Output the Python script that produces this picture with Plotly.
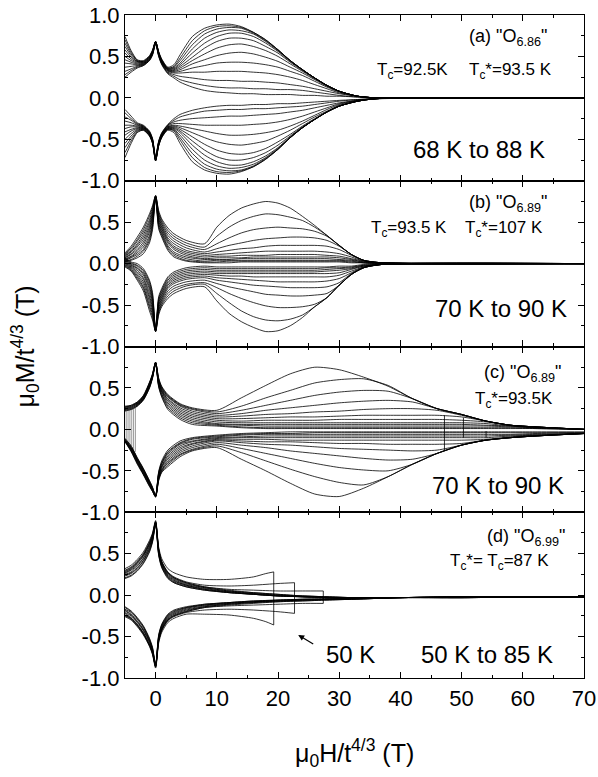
import plotly.graph_objects as go
from plotly.subplots import make_subplots

# ---------------- Panel (a) "O6.86", 68 K to 88 K ----------------
XA = [-5, -4, -3, -2, -1, -0.5, 0, 0.5, 1, 2, 3, 4, 6, 8, 10, 12, 14, 16, 18, 20, 22, 24, 26, 28, 30, 33, 36, 70]
A_UP = [
    [0.74, 0.57, 0.46, 0.45, 0.51, 0.58, 0.68, 0.56, 0.47, 0.37, 0.40, 0.52, 0.74, 0.84, 0.88, 0.89, 0.86, 0.79, 0.70, 0.58, 0.45, 0.34, 0.24, 0.15, 0.08, 0.02, 0.00, 0.00],
    [0.70, 0.55, 0.45, 0.44, 0.50, 0.57, 0.68, 0.55, 0.46, 0.36, 0.38, 0.48, 0.69, 0.81, 0.86, 0.87, 0.85, 0.79, 0.70, 0.58, 0.45, 0.34, 0.24, 0.15, 0.08, 0.02, 0.00, 0.00],
    [0.66, 0.53, 0.45, 0.44, 0.50, 0.57, 0.68, 0.55, 0.46, 0.36, 0.37, 0.45, 0.64, 0.77, 0.83, 0.85, 0.84, 0.78, 0.69, 0.58, 0.45, 0.34, 0.24, 0.15, 0.08, 0.02, 0.00, 0.00],
    [0.62, 0.51, 0.44, 0.43, 0.49, 0.56, 0.68, 0.55, 0.45, 0.35, 0.36, 0.42, 0.59, 0.72, 0.79, 0.82, 0.81, 0.77, 0.68, 0.57, 0.45, 0.34, 0.24, 0.15, 0.08, 0.02, 0.00, 0.00],
    [0.58, 0.49, 0.44, 0.43, 0.49, 0.56, 0.68, 0.54, 0.45, 0.35, 0.35, 0.40, 0.54, 0.66, 0.74, 0.78, 0.78, 0.74, 0.66, 0.56, 0.44, 0.34, 0.24, 0.15, 0.08, 0.02, 0.00, 0.00],
    [0.54, 0.47, 0.43, 0.42, 0.48, 0.55, 0.68, 0.54, 0.44, 0.34, 0.34, 0.38, 0.49, 0.60, 0.68, 0.72, 0.72, 0.69, 0.62, 0.54, 0.43, 0.33, 0.24, 0.15, 0.08, 0.02, 0.00, 0.00],
    [0.50, 0.45, 0.42, 0.42, 0.48, 0.55, 0.67, 0.53, 0.44, 0.34, 0.33, 0.36, 0.45, 0.53, 0.60, 0.64, 0.65, 0.62, 0.57, 0.50, 0.41, 0.32, 0.23, 0.15, 0.08, 0.02, 0.00, 0.00],
    [0.46, 0.43, 0.41, 0.41, 0.47, 0.54, 0.67, 0.53, 0.43, 0.33, 0.32, 0.34, 0.41, 0.46, 0.51, 0.54, 0.55, 0.53, 0.49, 0.44, 0.37, 0.30, 0.22, 0.14, 0.08, 0.02, 0.00, 0.00],
    [0.42, 0.41, 0.40, 0.41, 0.47, 0.54, 0.67, 0.52, 0.43, 0.33, 0.31, 0.32, 0.36, 0.39, 0.42, 0.43, 0.43, 0.42, 0.40, 0.37, 0.32, 0.27, 0.20, 0.13, 0.07, 0.02, 0.00, 0.00],
    [0.37, 0.38, 0.39, 0.40, 0.46, 0.53, 0.66, 0.52, 0.42, 0.32, 0.30, 0.30, 0.31, 0.31, 0.32, 0.32, 0.32, 0.31, 0.30, 0.28, 0.25, 0.21, 0.16, 0.11, 0.06, 0.02, 0.00, 0.00],
    [0.32, 0.35, 0.38, 0.40, 0.46, 0.53, 0.66, 0.51, 0.41, 0.31, 0.28, 0.26, 0.24, 0.22, 0.21, 0.21, 0.20, 0.20, 0.19, 0.18, 0.16, 0.14, 0.11, 0.08, 0.05, 0.02, 0.00, 0.00],
    [0.28, 0.33, 0.37, 0.39, 0.45, 0.52, 0.65, 0.51, 0.41, 0.30, 0.26, 0.22, 0.18, 0.15, 0.13, 0.12, 0.12, 0.11, 0.11, 0.10, 0.10, 0.09, 0.07, 0.05, 0.03, 0.01, 0.00, 0.00],
    [0.25, 0.31, 0.36, 0.39, 0.45, 0.52, 0.65, 0.50, 0.40, 0.29, 0.24, 0.19, 0.13, 0.09, 0.07, 0.06, 0.05, 0.05, 0.04, 0.04, 0.04, 0.03, 0.03, 0.02, 0.02, 0.01, 0.00, 0.00],
]
A_LO = [
    [-0.72, -0.55, -0.42, -0.39, -0.46, -0.55, -0.76, -0.58, -0.48, -0.39, -0.42, -0.55, -0.77, -0.87, -0.91, -0.92, -0.89, -0.83, -0.74, -0.62, -0.48, -0.36, -0.26, -0.17, -0.10, -0.04, -0.01, 0.00],
    [-0.66, -0.52, -0.41, -0.39, -0.46, -0.55, -0.76, -0.58, -0.48, -0.38, -0.40, -0.51, -0.72, -0.84, -0.89, -0.90, -0.88, -0.83, -0.74, -0.62, -0.48, -0.36, -0.26, -0.17, -0.10, -0.04, -0.01, 0.00],
    [-0.60, -0.49, -0.40, -0.38, -0.45, -0.54, -0.76, -0.57, -0.47, -0.38, -0.39, -0.48, -0.67, -0.80, -0.86, -0.88, -0.87, -0.82, -0.73, -0.62, -0.48, -0.36, -0.26, -0.17, -0.10, -0.04, -0.01, 0.00],
    [-0.55, -0.46, -0.39, -0.38, -0.45, -0.54, -0.75, -0.57, -0.47, -0.37, -0.38, -0.45, -0.62, -0.75, -0.82, -0.85, -0.84, -0.80, -0.72, -0.61, -0.48, -0.36, -0.26, -0.17, -0.10, -0.04, -0.01, 0.00],
    [-0.50, -0.43, -0.38, -0.37, -0.44, -0.53, -0.75, -0.56, -0.46, -0.37, -0.37, -0.42, -0.57, -0.69, -0.77, -0.81, -0.81, -0.77, -0.70, -0.60, -0.47, -0.36, -0.26, -0.17, -0.10, -0.04, -0.01, 0.00],
    [-0.45, -0.40, -0.37, -0.37, -0.44, -0.53, -0.75, -0.56, -0.46, -0.36, -0.36, -0.40, -0.52, -0.63, -0.71, -0.75, -0.75, -0.72, -0.66, -0.57, -0.46, -0.35, -0.26, -0.17, -0.10, -0.04, -0.01, 0.00],
    [-0.41, -0.38, -0.36, -0.36, -0.43, -0.52, -0.74, -0.55, -0.45, -0.36, -0.35, -0.38, -0.47, -0.56, -0.63, -0.67, -0.68, -0.66, -0.61, -0.53, -0.44, -0.34, -0.25, -0.17, -0.10, -0.04, -0.01, 0.00],
    [-0.37, -0.35, -0.35, -0.36, -0.43, -0.52, -0.74, -0.55, -0.45, -0.35, -0.34, -0.36, -0.42, -0.48, -0.53, -0.56, -0.57, -0.55, -0.52, -0.46, -0.39, -0.31, -0.23, -0.16, -0.09, -0.04, -0.01, 0.00],
    [-0.33, -0.33, -0.34, -0.35, -0.42, -0.51, -0.73, -0.54, -0.44, -0.35, -0.33, -0.34, -0.37, -0.40, -0.43, -0.45, -0.45, -0.44, -0.42, -0.39, -0.34, -0.28, -0.21, -0.14, -0.08, -0.03, -0.01, 0.00],
    [-0.28, -0.30, -0.33, -0.35, -0.42, -0.51, -0.73, -0.54, -0.44, -0.34, -0.31, -0.31, -0.32, -0.33, -0.33, -0.33, -0.33, -0.32, -0.31, -0.29, -0.26, -0.22, -0.17, -0.12, -0.07, -0.03, -0.01, 0.00],
    [-0.23, -0.27, -0.32, -0.34, -0.41, -0.50, -0.72, -0.53, -0.43, -0.33, -0.29, -0.27, -0.25, -0.24, -0.23, -0.22, -0.22, -0.21, -0.20, -0.19, -0.17, -0.15, -0.12, -0.09, -0.06, -0.03, -0.01, 0.00],
    [-0.18, -0.25, -0.31, -0.34, -0.41, -0.50, -0.72, -0.53, -0.43, -0.33, -0.27, -0.23, -0.19, -0.16, -0.15, -0.14, -0.14, -0.13, -0.13, -0.12, -0.11, -0.10, -0.08, -0.06, -0.04, -0.02, -0.01, 0.00],
    [-0.14, -0.22, -0.30, -0.33, -0.40, -0.49, -0.71, -0.52, -0.42, -0.32, -0.25, -0.20, -0.15, -0.12, -0.10, -0.09, -0.09, -0.08, -0.08, -0.07, -0.07, -0.06, -0.05, -0.04, -0.03, -0.02, -0.01, 0.00],
]

# ---------------- Panel (b) "O6.89", 70 K to 90 K ----------------
XB = [-5, -4, -3, -2, -1, -0.5, 0, 0.5, 1, 2, 3, 5, 8, 10, 12, 14, 16, 18, 20, 22, 24, 26, 28, 30, 32, 34, 37, 70]
B_UP = [
    [0.13, 0.21, 0.32, 0.44, 0.60, 0.70, 0.82, 0.64, 0.54, 0.43, 0.36, 0.28, 0.24, 0.44, 0.58, 0.67, 0.72, 0.75, 0.73, 0.67, 0.57, 0.46, 0.34, 0.22, 0.11, 0.04, 0.01, 0.00],
    [0.12, 0.19, 0.29, 0.41, 0.57, 0.68, 0.82, 0.62, 0.52, 0.40, 0.33, 0.25, 0.20, 0.33, 0.44, 0.52, 0.57, 0.60, 0.59, 0.56, 0.52, 0.44, 0.34, 0.22, 0.11, 0.04, 0.01, 0.00],
    [0.11, 0.17, 0.27, 0.38, 0.53, 0.66, 0.82, 0.60, 0.50, 0.37, 0.30, 0.22, 0.17, 0.24, 0.31, 0.37, 0.41, 0.43, 0.44, 0.43, 0.42, 0.39, 0.33, 0.22, 0.11, 0.04, 0.01, 0.00],
    [0.10, 0.15, 0.24, 0.35, 0.50, 0.63, 0.81, 0.58, 0.48, 0.34, 0.27, 0.19, 0.14, 0.18, 0.22, 0.25, 0.28, 0.30, 0.31, 0.32, 0.32, 0.31, 0.28, 0.21, 0.11, 0.04, 0.01, 0.00],
    [0.09, 0.14, 0.22, 0.32, 0.47, 0.61, 0.81, 0.56, 0.46, 0.31, 0.24, 0.16, 0.12, 0.14, 0.16, 0.18, 0.19, 0.21, 0.22, 0.22, 0.22, 0.22, 0.21, 0.17, 0.10, 0.04, 0.01, 0.00],
    [0.08, 0.12, 0.20, 0.29, 0.44, 0.58, 0.81, 0.54, 0.44, 0.29, 0.21, 0.14, 0.10, 0.11, 0.12, 0.13, 0.14, 0.15, 0.15, 0.15, 0.15, 0.15, 0.14, 0.12, 0.08, 0.03, 0.01, 0.00],
    [0.07, 0.11, 0.17, 0.26, 0.41, 0.56, 0.80, 0.52, 0.42, 0.27, 0.19, 0.12, 0.08, 0.09, 0.09, 0.10, 0.10, 0.10, 0.11, 0.11, 0.11, 0.11, 0.10, 0.09, 0.06, 0.03, 0.01, 0.00],
    [0.06, 0.09, 0.15, 0.23, 0.38, 0.53, 0.80, 0.50, 0.40, 0.25, 0.17, 0.10, 0.06, 0.07, 0.07, 0.07, 0.08, 0.08, 0.08, 0.08, 0.08, 0.08, 0.08, 0.07, 0.05, 0.02, 0.01, 0.00],
    [0.05, 0.08, 0.13, 0.20, 0.34, 0.50, 0.80, 0.48, 0.38, 0.22, 0.14, 0.08, 0.05, 0.05, 0.05, 0.06, 0.06, 0.06, 0.06, 0.06, 0.06, 0.06, 0.06, 0.05, 0.04, 0.02, 0.01, 0.00],
    [0.04, 0.07, 0.11, 0.17, 0.31, 0.47, 0.79, 0.46, 0.36, 0.20, 0.12, 0.06, 0.03, 0.04, 0.04, 0.04, 0.04, 0.04, 0.04, 0.04, 0.04, 0.04, 0.04, 0.04, 0.03, 0.01, 0.00, 0.00],
    [0.03, 0.05, 0.09, 0.15, 0.28, 0.44, 0.79, 0.44, 0.34, 0.18, 0.10, 0.04, 0.02, 0.02, 0.03, 0.03, 0.03, 0.03, 0.03, 0.03, 0.03, 0.03, 0.03, 0.03, 0.02, 0.01, 0.00, 0.00],
    [0.02, 0.04, 0.07, 0.12, 0.25, 0.41, 0.79, 0.42, 0.32, 0.16, 0.08, 0.03, 0.01, 0.01, 0.01, 0.02, 0.02, 0.02, 0.02, 0.02, 0.02, 0.02, 0.02, 0.02, 0.01, 0.01, 0.00, 0.00],
]
B_LO = [
    [-0.04, -0.09, -0.20, -0.33, -0.57, -0.68, -0.82, -0.62, -0.52, -0.42, -0.36, -0.30, -0.28, -0.45, -0.60, -0.70, -0.77, -0.82, -0.81, -0.75, -0.65, -0.52, -0.41, -0.26, -0.13, -0.05, -0.01, 0.00],
    [-0.03, -0.08, -0.18, -0.30, -0.53, -0.65, -0.82, -0.60, -0.50, -0.39, -0.33, -0.27, -0.25, -0.36, -0.47, -0.57, -0.64, -0.68, -0.69, -0.67, -0.62, -0.52, -0.41, -0.26, -0.13, -0.05, -0.01, 0.00],
    [-0.02, -0.07, -0.16, -0.28, -0.50, -0.62, -0.82, -0.58, -0.48, -0.36, -0.30, -0.25, -0.23, -0.29, -0.36, -0.42, -0.47, -0.51, -0.53, -0.53, -0.52, -0.49, -0.41, -0.26, -0.13, -0.05, -0.01, 0.00],
    [-0.01, -0.06, -0.14, -0.25, -0.46, -0.59, -0.81, -0.56, -0.46, -0.33, -0.27, -0.22, -0.20, -0.24, -0.28, -0.31, -0.34, -0.37, -0.38, -0.39, -0.39, -0.38, -0.36, -0.26, -0.13, -0.05, -0.01, 0.00],
    [0.00, -0.05, -0.12, -0.22, -0.42, -0.56, -0.81, -0.54, -0.44, -0.30, -0.24, -0.19, -0.17, -0.20, -0.22, -0.24, -0.26, -0.27, -0.28, -0.29, -0.29, -0.29, -0.28, -0.23, -0.12, -0.05, -0.01, 0.00],
    [0.01, -0.04, -0.10, -0.19, -0.39, -0.53, -0.81, -0.52, -0.42, -0.28, -0.22, -0.17, -0.15, -0.17, -0.18, -0.19, -0.20, -0.21, -0.22, -0.22, -0.22, -0.22, -0.21, -0.18, -0.11, -0.04, -0.01, 0.00],
    [0.02, -0.03, -0.08, -0.17, -0.35, -0.50, -0.80, -0.50, -0.40, -0.26, -0.20, -0.15, -0.13, -0.14, -0.15, -0.15, -0.16, -0.16, -0.16, -0.16, -0.16, -0.16, -0.16, -0.14, -0.09, -0.04, -0.01, 0.00],
    [0.03, -0.02, -0.06, -0.14, -0.31, -0.47, -0.80, -0.48, -0.38, -0.24, -0.18, -0.13, -0.11, -0.12, -0.12, -0.12, -0.12, -0.12, -0.12, -0.12, -0.12, -0.12, -0.12, -0.11, -0.07, -0.03, -0.01, 0.00],
    [0.04, -0.01, -0.05, -0.12, -0.28, -0.44, -0.80, -0.46, -0.36, -0.22, -0.16, -0.11, -0.09, -0.10, -0.10, -0.10, -0.10, -0.10, -0.10, -0.10, -0.10, -0.10, -0.09, -0.08, -0.06, -0.03, -0.01, 0.00],
    [0.05, 0.00, -0.03, -0.10, -0.25, -0.41, -0.79, -0.44, -0.34, -0.20, -0.14, -0.09, -0.07, -0.08, -0.08, -0.08, -0.08, -0.08, -0.08, -0.08, -0.08, -0.08, -0.07, -0.06, -0.05, -0.02, -0.01, 0.00],
    [0.06, 0.01, -0.02, -0.08, -0.22, -0.38, -0.79, -0.42, -0.32, -0.18, -0.12, -0.07, -0.05, -0.06, -0.06, -0.06, -0.06, -0.06, -0.06, -0.06, -0.06, -0.06, -0.05, -0.05, -0.04, -0.02, -0.01, 0.00],
    [0.07, 0.02, 0.00, -0.06, -0.20, -0.35, -0.79, -0.40, -0.30, -0.16, -0.10, -0.05, -0.03, -0.04, -0.04, -0.04, -0.04, -0.04, -0.04, -0.04, -0.04, -0.04, -0.04, -0.03, -0.03, -0.01, 0.00, 0.00],
]

# ---------------- Panel (c) "O6.89", 70 K to 90 K ----------------
XC = [-5, -4, -3, -2, -1, -0.5, 0, 0.5, 1, 2, 4, 6, 10, 14, 18, 22, 26, 30, 34, 38, 42, 46, 50, 54, 58, 62, 70]
C_UP = [
    [0.28, 0.29, 0.33, 0.41, 0.57, 0.67, 0.81, 0.62, 0.52, 0.42, 0.31, 0.26, 0.23, 0.38, 0.53, 0.67, 0.75, 0.72, 0.63, 0.52, 0.37, 0.25, 0.18, 0.10, 0.05, 0.03, 0.00],
    [0.27, 0.29, 0.33, 0.40, 0.56, 0.67, 0.81, 0.61, 0.51, 0.41, 0.30, 0.25, 0.21, 0.28, 0.38, 0.47, 0.56, 0.60, 0.61, 0.53, 0.37, 0.25, 0.18, 0.10, 0.05, 0.03, 0.00],
    [0.27, 0.28, 0.32, 0.40, 0.56, 0.66, 0.81, 0.60, 0.50, 0.40, 0.29, 0.24, 0.19, 0.23, 0.29, 0.35, 0.41, 0.45, 0.47, 0.46, 0.37, 0.25, 0.18, 0.10, 0.05, 0.03, 0.00],
    [0.26, 0.28, 0.32, 0.39, 0.55, 0.66, 0.81, 0.59, 0.49, 0.39, 0.28, 0.22, 0.17, 0.19, 0.23, 0.26, 0.29, 0.32, 0.34, 0.35, 0.33, 0.25, 0.18, 0.10, 0.05, 0.03, 0.00],
    [0.26, 0.27, 0.31, 0.39, 0.54, 0.65, 0.80, 0.58, 0.48, 0.37, 0.26, 0.20, 0.15, 0.16, 0.18, 0.19, 0.21, 0.22, 0.24, 0.25, 0.25, 0.23, 0.17, 0.10, 0.05, 0.03, 0.00],
    [0.25, 0.27, 0.31, 0.38, 0.54, 0.65, 0.80, 0.57, 0.47, 0.36, 0.24, 0.18, 0.13, 0.13, 0.14, 0.15, 0.15, 0.16, 0.17, 0.17, 0.17, 0.17, 0.15, 0.10, 0.05, 0.03, 0.00],
    [0.25, 0.26, 0.30, 0.38, 0.53, 0.64, 0.80, 0.56, 0.46, 0.34, 0.22, 0.16, 0.11, 0.10, 0.11, 0.11, 0.11, 0.12, 0.12, 0.12, 0.12, 0.12, 0.11, 0.09, 0.05, 0.03, 0.00],
    [0.24, 0.26, 0.30, 0.37, 0.52, 0.64, 0.80, 0.55, 0.45, 0.32, 0.20, 0.14, 0.09, 0.08, 0.08, 0.08, 0.08, 0.08, 0.08, 0.08, 0.08, 0.08, 0.08, 0.07, 0.04, 0.02, 0.00],
    [0.24, 0.25, 0.29, 0.37, 0.52, 0.63, 0.80, 0.54, 0.43, 0.30, 0.18, 0.12, 0.07, 0.06, 0.06, 0.06, 0.06, 0.06, 0.06, 0.06, 0.06, 0.06, 0.06, 0.05, 0.04, 0.02, 0.00],
    [0.23, 0.25, 0.29, 0.36, 0.51, 0.63, 0.79, 0.53, 0.42, 0.28, 0.16, 0.10, 0.06, 0.05, 0.04, 0.04, 0.04, 0.04, 0.04, 0.04, 0.04, 0.04, 0.04, 0.04, 0.03, 0.02, 0.00],
    [0.23, 0.24, 0.28, 0.36, 0.50, 0.62, 0.79, 0.52, 0.40, 0.26, 0.14, 0.08, 0.05, 0.03, 0.02, 0.02, 0.02, 0.02, 0.02, 0.02, 0.02, 0.02, 0.02, 0.02, 0.02, 0.01, 0.00],
    [0.22, 0.24, 0.28, 0.35, 0.50, 0.62, 0.79, 0.51, 0.39, 0.24, 0.12, 0.06, 0.04, 0.02, 0.01, 0.01, 0.01, 0.01, 0.01, 0.01, 0.01, 0.01, 0.01, 0.01, 0.01, 0.01, 0.00],
]
C_LO = [
    [-0.15, -0.27, -0.42, -0.55, -0.69, -0.75, -0.82, -0.62, -0.52, -0.45, -0.33, -0.26, -0.22, -0.36, -0.50, -0.65, -0.78, -0.81, -0.71, -0.57, -0.42, -0.29, -0.19, -0.13, -0.10, -0.08, -0.05],
    [-0.15, -0.26, -0.41, -0.54, -0.68, -0.75, -0.81, -0.61, -0.51, -0.43, -0.31, -0.25, -0.20, -0.28, -0.38, -0.48, -0.57, -0.64, -0.67, -0.57, -0.42, -0.29, -0.19, -0.13, -0.10, -0.08, -0.05],
    [-0.14, -0.26, -0.40, -0.54, -0.68, -0.74, -0.81, -0.60, -0.50, -0.41, -0.30, -0.24, -0.18, -0.23, -0.29, -0.35, -0.41, -0.46, -0.49, -0.50, -0.42, -0.29, -0.19, -0.13, -0.10, -0.08, -0.05],
    [-0.14, -0.25, -0.40, -0.53, -0.67, -0.74, -0.81, -0.59, -0.49, -0.40, -0.28, -0.22, -0.16, -0.19, -0.22, -0.26, -0.29, -0.32, -0.35, -0.37, -0.36, -0.29, -0.19, -0.13, -0.10, -0.08, -0.05],
    [-0.14, -0.24, -0.39, -0.52, -0.66, -0.73, -0.81, -0.58, -0.48, -0.38, -0.26, -0.20, -0.14, -0.16, -0.18, -0.19, -0.21, -0.23, -0.24, -0.25, -0.26, -0.25, -0.19, -0.13, -0.10, -0.08, -0.05],
    [-0.13, -0.24, -0.38, -0.51, -0.66, -0.73, -0.81, -0.57, -0.46, -0.36, -0.24, -0.18, -0.13, -0.14, -0.15, -0.15, -0.16, -0.17, -0.17, -0.18, -0.18, -0.18, -0.17, -0.13, -0.10, -0.08, -0.05],
    [-0.13, -0.23, -0.37, -0.51, -0.65, -0.72, -0.80, -0.56, -0.45, -0.34, -0.22, -0.17, -0.12, -0.12, -0.12, -0.13, -0.13, -0.13, -0.13, -0.13, -0.13, -0.13, -0.13, -0.12, -0.09, -0.07, -0.05],
    [-0.13, -0.22, -0.37, -0.50, -0.64, -0.72, -0.80, -0.55, -0.44, -0.32, -0.20, -0.15, -0.11, -0.10, -0.10, -0.10, -0.10, -0.10, -0.10, -0.10, -0.10, -0.10, -0.10, -0.10, -0.08, -0.07, -0.05],
    [-0.12, -0.22, -0.36, -0.49, -0.64, -0.71, -0.80, -0.54, -0.42, -0.30, -0.18, -0.14, -0.10, -0.09, -0.08, -0.08, -0.08, -0.08, -0.08, -0.08, -0.08, -0.08, -0.08, -0.08, -0.07, -0.06, -0.05],
    [-0.12, -0.21, -0.35, -0.48, -0.63, -0.71, -0.80, -0.53, -0.41, -0.28, -0.17, -0.12, -0.09, -0.07, -0.06, -0.06, -0.06, -0.06, -0.06, -0.06, -0.06, -0.06, -0.06, -0.06, -0.06, -0.05, -0.04],
    [-0.11, -0.20, -0.35, -0.48, -0.62, -0.70, -0.80, -0.52, -0.40, -0.27, -0.16, -0.11, -0.08, -0.06, -0.05, -0.05, -0.04, -0.04, -0.04, -0.04, -0.04, -0.04, -0.04, -0.04, -0.04, -0.04, -0.04],
    [-0.11, -0.20, -0.34, -0.47, -0.62, -0.70, -0.80, -0.51, -0.38, -0.25, -0.14, -0.10, -0.07, -0.05, -0.04, -0.03, -0.03, -0.03, -0.03, -0.03, -0.03, -0.03, -0.03, -0.03, -0.03, -0.03, -0.03],
]
# vertical sweep segments in panel (c): start-of-run hatch at the left, run ends at the right
C_HATCH_X = [-4.8, -4.5, -4.2, -3.9, -3.6, -3.3]
C_HATCH_TOP = [0.27, 0.27, 0.28, 0.29, 0.29, 0.30]
C_HATCH_BOT = [-0.14, -0.16, -0.19, -0.22, -0.25, -0.27]
C_JUMP_X = [47.2, 50.3, 54.0]
C_JUMP_TOP = [0.17, 0.14, -0.02]
C_JUMP_BOT = [-0.26, -0.10, -0.10]

# ---------------- Panel (d) "O6.99", 50 K to 85 K ----------------
XD = [-5, -4, -3, -2, -1, -0.5, 0, 0.5, 1, 2, 3, 5, 8, 12, 16, 20, 24, 28, 32, 36, 40, 50, 70]
D_UP = [
    [0.28, 0.32, 0.39, 0.48, 0.62, 0.72, 0.88, 0.55, 0.40, 0.27, 0.21, 0.15, 0.10, 0.06, 0.03, 0.01, -0.01, -0.02, -0.03, -0.03, -0.03, -0.02, -0.02],
    [0.27, 0.31, 0.38, 0.47, 0.61, 0.71, 0.88, 0.54, 0.39, 0.26, 0.20, 0.14, 0.09, 0.05, 0.03, 0.01, -0.01, -0.02, -0.03, -0.03, -0.03, -0.02, -0.02],
    [0.26, 0.30, 0.36, 0.45, 0.59, 0.70, 0.87, 0.53, 0.38, 0.25, 0.19, 0.13, 0.09, 0.05, 0.02, 0.00, -0.01, -0.02, -0.03, -0.03, -0.03, -0.02, -0.02],
    [0.25, 0.28, 0.35, 0.44, 0.58, 0.69, 0.87, 0.52, 0.37, 0.24, 0.18, 0.12, 0.08, 0.04, 0.02, 0.00, -0.02, -0.03, -0.03, -0.03, -0.03, -0.02, -0.02],
    [0.24, 0.27, 0.33, 0.42, 0.56, 0.67, 0.86, 0.51, 0.36, 0.23, 0.17, 0.12, 0.07, 0.04, 0.01, -0.01, -0.02, -0.03, -0.04, -0.03, -0.03, -0.02, -0.02],
    [0.23, 0.26, 0.32, 0.41, 0.55, 0.66, 0.86, 0.50, 0.35, 0.22, 0.16, 0.11, 0.07, 0.03, 0.01, -0.01, -0.02, -0.03, -0.04, -0.03, -0.03, -0.02, -0.02],
    [0.21, 0.24, 0.30, 0.39, 0.53, 0.65, 0.85, 0.49, 0.34, 0.21, 0.15, 0.10, 0.06, 0.03, 0.01, -0.01, -0.02, -0.03, -0.04, -0.03, -0.03, -0.02, -0.02],
    [0.20, 0.23, 0.29, 0.38, 0.52, 0.64, 0.85, 0.48, 0.33, 0.20, 0.15, 0.10, 0.06, 0.03, 0.01, -0.01, -0.02, -0.03, -0.04, -0.03, -0.03, -0.02, -0.02],
]
D_LO = [
    [-0.24, -0.28, -0.36, -0.46, -0.60, -0.70, -0.86, -0.55, -0.42, -0.30, -0.25, -0.20, -0.15, -0.12, -0.10, -0.08, -0.07, -0.06, -0.05, -0.04, -0.03, -0.03, -0.02],
    [-0.22, -0.27, -0.35, -0.45, -0.59, -0.69, -0.86, -0.54, -0.41, -0.29, -0.24, -0.19, -0.14, -0.11, -0.09, -0.08, -0.07, -0.06, -0.05, -0.04, -0.03, -0.03, -0.02],
    [-0.21, -0.25, -0.33, -0.43, -0.57, -0.68, -0.85, -0.53, -0.40, -0.28, -0.23, -0.18, -0.14, -0.11, -0.09, -0.07, -0.06, -0.05, -0.05, -0.04, -0.03, -0.03, -0.02],
    [-0.19, -0.24, -0.32, -0.42, -0.56, -0.67, -0.85, -0.52, -0.39, -0.27, -0.22, -0.17, -0.13, -0.10, -0.08, -0.07, -0.06, -0.05, -0.05, -0.04, -0.03, -0.03, -0.02],
    [-0.18, -0.23, -0.31, -0.41, -0.55, -0.66, -0.85, -0.51, -0.38, -0.26, -0.21, -0.16, -0.12, -0.10, -0.08, -0.07, -0.06, -0.05, -0.04, -0.04, -0.03, -0.03, -0.02],
    [-0.17, -0.21, -0.29, -0.39, -0.54, -0.65, -0.84, -0.50, -0.37, -0.25, -0.20, -0.15, -0.12, -0.09, -0.08, -0.06, -0.05, -0.05, -0.04, -0.04, -0.03, -0.03, -0.02],
    [-0.15, -0.20, -0.28, -0.38, -0.53, -0.64, -0.84, -0.49, -0.36, -0.24, -0.19, -0.15, -0.11, -0.09, -0.07, -0.06, -0.05, -0.05, -0.04, -0.04, -0.03, -0.03, -0.02],
    [-0.14, -0.19, -0.27, -0.37, -0.52, -0.63, -0.84, -0.48, -0.35, -0.23, -0.18, -0.14, -0.11, -0.09, -0.07, -0.06, -0.05, -0.04, -0.04, -0.03, -0.03, -0.03, -0.02],
]
# the three coldest runs end at lower fields, closed by a vertical sweep
D50_X = [-5, -4, -3, -2, -1, -0.5, 0, 0.5, 1, 2, 3, 5, 8, 12, 16, 18, 19.3]
D50_UP = [0.32, 0.36, 0.43, 0.52, 0.66, 0.75, 0.90, 0.58, 0.44, 0.32, 0.27, 0.22, 0.19, 0.19, 0.22, 0.26, 0.28]
D50_LO = [-0.26, -0.30, -0.38, -0.48, -0.62, -0.72, -0.88, -0.58, -0.45, -0.33, -0.28, -0.23, -0.23, -0.24, -0.28, -0.32, -0.36]
D55_X = [-5, -4, -3, -2, -1, -0.5, 0, 0.5, 1, 2, 3, 5, 8, 12, 16, 20, 22.7]
D55_UP = [0.30, 0.34, 0.41, 0.50, 0.64, 0.74, 0.89, 0.56, 0.41, 0.28, 0.22, 0.16, 0.12, 0.11, 0.12, 0.14, 0.15]
D55_LO = [-0.25, -0.29, -0.37, -0.47, -0.61, -0.71, -0.87, -0.56, -0.43, -0.31, -0.26, -0.21, -0.18, -0.17, -0.18, -0.20, -0.22]
D60_X = [-5, -4, -3, -2, -1, -0.5, 0, 0.5, 1, 2, 3, 5, 8, 12, 16, 20, 24, 27.4]
D60_UP = [0.29, 0.33, 0.40, 0.49, 0.63, 0.73, 0.88, 0.55, 0.40, 0.27, 0.21, 0.15, 0.10, 0.07, 0.06, 0.05, 0.05, 0.05]
D60_LO = [-0.24, -0.28, -0.36, -0.46, -0.60, -0.70, -0.86, -0.55, -0.42, -0.30, -0.25, -0.20, -0.15, -0.13, -0.12, -0.11, -0.10, -0.10]
D_JUMP_X = [19.3, 22.7, 27.4]
D_JUMP_TOP = [0.28, 0.15, 0.05]
D_JUMP_BOT = [-0.36, -0.22, -0.10]

# ---------------- axes ----------------
X_TICKS = [0, 10, 20, 30, 40, 50, 60, 70]
X_MINOR = [-5, 5, 15, 25, 35, 45, 55, 65]
Y_TICKS_TOP = [1.0, 0.5, 0.0, -0.5, -1.0]
Y_TEXT_TOP = ["1.0", "0.5", "0.0", "-0.5", "-1.0"]
Y_TICKS = [0.5, 0.0, -0.5, -1.0]
Y_TEXT = ["0.5", "0.0", "-0.5", "-1.0"]
Y_MINOR = [-0.75, -0.25, 0.25, 0.75]

FONT = "Liberation Sans, Arial, Helvetica, sans-serif"


def joined(xgrid, rows):
    xs, ys = [], []
    for r in rows:
        xs += list(xgrid) + [None]
        ys += list(r) + [None]
    return xs, ys


def jumps(xv, top, bot):
    xs, ys = [], []
    for a, t, b in zip(xv, top, bot):
        xs += [a, a, None]
        ys += [t, b, None]
    return xs, ys


fig = make_subplots(rows=4, cols=1, shared_xaxes=True, vertical_spacing=0)
curve = dict(color="black", width=0.8, shape="spline", smoothing=0.7)
straight = dict(color="black", width=0.8)

panels = [(XA, A_UP + A_LO), (XB, B_UP + B_LO), (XC, C_UP + C_LO), (XD, D_UP + D_LO)]
for i, (xg, rows) in enumerate(panels, start=1):
    xs, ys = joined(xg, rows)
    fig.add_trace(go.Scatter(x=xs, y=ys, mode="lines", line=curve, hoverinfo="skip",
                             showlegend=False), row=i, col=1)

xs, ys = jumps(C_HATCH_X, C_HATCH_TOP, C_HATCH_BOT)
fig.add_trace(go.Scatter(x=xs, y=ys, mode="lines", line=dict(color="#555555", width=0.6),
                         hoverinfo="skip", showlegend=False), row=3, col=1)
xs, ys = jumps(C_JUMP_X, C_JUMP_TOP, C_JUMP_BOT)
fig.add_trace(go.Scatter(x=xs, y=ys, mode="lines", line=straight, hoverinfo="skip",
                         showlegend=False), row=3, col=1)

for xg, up, lo in [(D50_X, D50_UP, D50_LO), (D55_X, D55_UP, D55_LO), (D60_X, D60_UP, D60_LO)]:
    xs, ys = joined(xg, [up, lo])
    fig.add_trace(go.Scatter(x=xs, y=ys, mode="lines", line=curve, hoverinfo="skip",
                             showlegend=False), row=4, col=1)
xs, ys = jumps(D_JUMP_X, D_JUMP_TOP, D_JUMP_BOT)
fig.add_trace(go.Scatter(x=xs, y=ys, mode="lines", line=straight, hoverinfo="skip",
                         showlegend=False), row=4, col=1)

for i in range(1, 5):
    tv, tt = (Y_TICKS_TOP, Y_TEXT_TOP) if i == 1 else (Y_TICKS, Y_TEXT)
    fig.update_yaxes(range=[-1, 1], tickmode="array", tickvals=tv, ticktext=tt,
                     ticks="inside", ticklen=6, tickwidth=1.2, tickcolor="black",
                     showline=True, linewidth=1.2, linecolor="black", mirror="ticks",
                     showgrid=False, zeroline=False, automargin=False,
                     tickfont=dict(family=FONT, size=22, color="black"),
                     minor=dict(tickmode="array", tickvals=Y_MINOR, ticks="inside",
                                ticklen=3, tickwidth=1, tickcolor="black"),
                     row=i, col=1)
    fig.update_xaxes(range=[-5, 70], tickmode="array", tickvals=X_TICKS,
                     ticktext=[str(v) for v in X_TICKS],
                     ticks="inside", ticklen=6, tickwidth=1.2, tickcolor="black",
                     showline=True, linewidth=1.2, linecolor="black", mirror="ticks",
                     showgrid=False, zeroline=False, automargin=False,
                     tickfont=dict(family=FONT, size=22, color="black"),
                     minor=dict(tickmode="array", tickvals=X_MINOR, ticks="inside",
                                ticklen=3, tickwidth=1, tickcolor="black"),
                     row=i, col=1)

ann = []


def txt(text, x, y, k, size, xanchor="left"):
    ann.append(dict(text=text, x=x, y=y, xref="x" if k == 1 else f"x{k}",
                    yref="y" if k == 1 else f"y{k}", showarrow=False,
                    xanchor=xanchor, yanchor="middle",
                    font=dict(family=FONT, size=size, color="black")))


txt('(a) "O<sub>6.86</sub>"', 50.9, 0.73, 1, 18)
txt('T<sub>c</sub>=92.5K', 35.8, 0.32, 1, 17)
txt('T<sub>c</sub>*=93.5 K', 50.9, 0.32, 1, 17)
txt('68 K to 88 K', 52.8, -0.62, 1, 24, "center")

txt('(b) "O<sub>6.89</sub>"', 50.8, 0.72, 2, 18)
txt('T<sub>c</sub>=93.5 K', 34.8, 0.42, 2, 17)
txt('T<sub>c</sub>*=107 K', 50.3, 0.42, 2, 17)
txt('70 K to 90 K', 56.5, -0.54, 2, 24, "center")

txt('(c) "O<sub>6.89</sub>"', 53.3, 0.67, 3, 18)
txt('T<sub>c</sub>*=93.5K', 51.9, 0.35, 3, 17)
txt('70 K to 90 K', 56.0, -0.68, 3, 24, "center")

txt('(d) "O<sub>6.99</sub>"', 53.8, 0.70, 4, 18)
txt('T<sub>c</sub>*= T<sub>c</sub>=87 K', 47.8, 0.40, 4, 17)
txt('50 K to 85 K', 54.2, -0.72, 4, 24, "center")
txt('50 K', 31.9, -0.72, 4, 24, "center")

ann.append(dict(text="", x=23.3, y=-0.48, xref="x4", yref="y4", ax=26.0, ay=-0.60,
                axref="x4", ayref="y4", showarrow=True, arrowhead=2, arrowsize=1,
                arrowwidth=1.2, arrowcolor="black"))

ann.append(dict(text="μ<sub>0</sub>H/t<sup>4/3</sup> (T)", x=0.499, y=-0.113,
                xref="paper", yref="paper", showarrow=False, xanchor="center",
                yanchor="middle", font=dict(family=FONT, size=25, color="black")))
ann.append(dict(text="μ<sub>0</sub>M/t<sup>4/3</sup> (T)", x=-0.218, y=0.50,
                xref="paper", yref="paper", showarrow=False, xanchor="center",
                yanchor="middle", textangle=-90,
                font=dict(family=FONT, size=25, color="black")))

fig.update_layout(width=598, height=777, margin=dict(l=125, r=14, t=15, b=99, autoexpand=False),
                  plot_bgcolor="white", paper_bgcolor="white", annotations=ann,
                  showlegend=False, font=dict(family=FONT, color="black"))

fig.write_html("out.html", config={"displayModeBar": False},
               post_script="document.body.style.margin='0px';")
